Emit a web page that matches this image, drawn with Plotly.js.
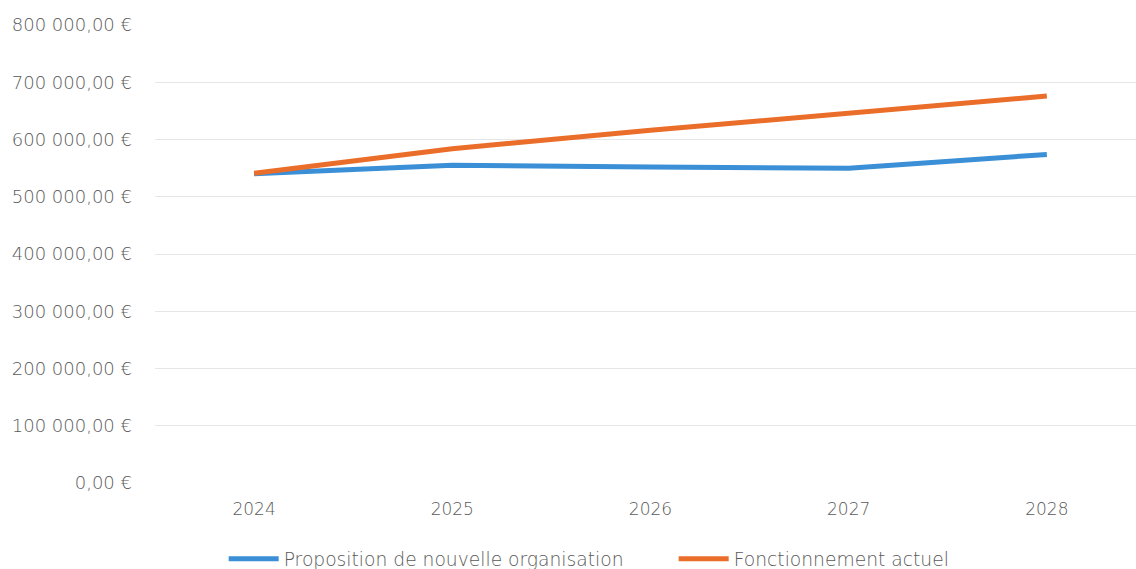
<!DOCTYPE html>
<html>
<head>
<meta charset="utf-8">
<script src="https://cdn.plot.ly/plotly-3.0.1.min.js"></script>
<style>html,body{margin:0;padding:0;background:#fff;}#chart{width:1136px;height:569px;}</style>
</head>
<body>
<div id="chart"></div>
<script>
const years = ["2024", "2025", "2026", "2027", "2028"];
const nouvelleOrganisation = [540000, 555000, 552000, 550000, 574000];
const fonctionnementActuel = [541000, 584000, 616000, 646000, 676000];
const seriesNames = ["Proposition de nouvelle organisation", "Fonctionnement actuel"];
const yTickVals = [0, 100000, 200000, 300000, 400000, 500000, 600000, 700000, 800000];
const yTickText = ["0,00 €", "100 000,00 €", "200 000,00 €", "300 000,00 €", "400 000,00 €", "500 000,00 €", "600 000,00 €", "700 000,00 €", "800 000,00 €"];

const fontFam = "'DejaVu Sans', 'Open Sans', sans-serif";
const txtColor = "#5a5a5a";

const traces = [
  {x: years, y: nouvelleOrganisation, name: seriesNames[0], type: "scatter", mode: "lines",
   line: {color: "#3a8fd6", width: 5}},
  {x: years, y: fonctionnementActuel, name: seriesNames[1], type: "scatter", mode: "lines",
   line: {color: "#eb6d2a", width: 5}}
];

const layout = {
  width: 1136, height: 569,
  margin: {l: 155, r: 0, t: 25, b: 86, autoexpand: false},
  paper_bgcolor: "#ffffff", plot_bgcolor: "#ffffff",
  font: {family: fontFam, color: txtColor, size: 17, weight: 200},
  showlegend: true,
  legend: {orientation: "h", x: 0.07, xanchor: "left", y: -0.166, yanchor: "middle",
           font: {family: fontFam, size: 18.7, color: txtColor, weight: 200},
           entrywidth: 385, entrywidthmode: "pixels", itemwidth: 50},
  xaxis: {type: "category", range: [-0.5, 4.45], showgrid: false, zeroline: false,
          showline: false, ticks: "", ticklabelstandoff: 14,
          tickfont: {family: fontFam, size: 17, color: txtColor, weight: 200}},
  yaxis: {range: [0, 800000], tickvals: yTickVals, ticktext: yTickText, showgrid: true,
          gridcolor: "#e6e6e6", gridwidth: 1, zeroline: false, showline: false, ticks: "",
          ticklabelstandoff: 22, tickfont: {family: fontFam, size: 18, color: txtColor, weight: 200}}
};

Plotly.newPlot("chart", traces, layout, {displayModeBar: false, staticPlot: true});
</script>
</body>
</html>
